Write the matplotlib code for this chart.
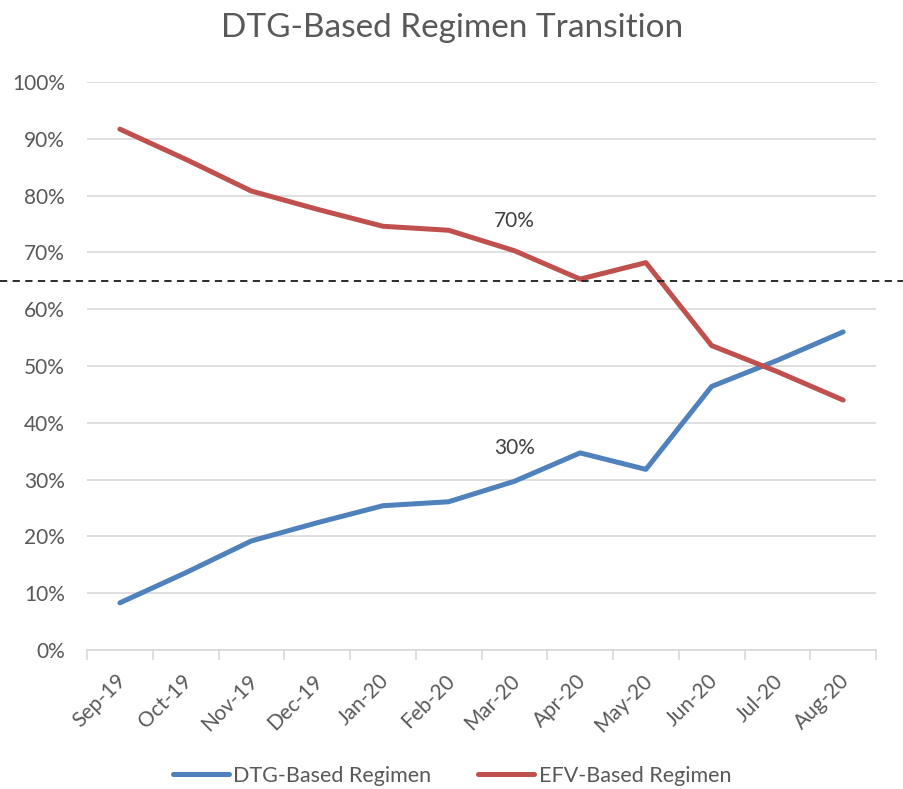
import matplotlib
matplotlib.use("Agg")
import matplotlib.pyplot as plt
from matplotlib.ticker import PercentFormatter, FixedLocator

months = ["Sep-19", "Oct-19", "Nov-19", "Dec-19", "Jan-20", "Feb-20",
          "Mar-20", "Apr-20", "May-20", "Jun-20", "Jul-20", "Aug-20"]
dtg = [8.3, 13.6, 19.2, 22.4, 25.4, 26.1, 29.7, 34.7, 31.8, 46.4, 51.0, 56.0]
efv = [91.7, 86.4, 80.8, 77.6, 74.6, 73.9, 70.3, 65.3, 68.2, 53.6, 49.0, 44.0]
threshold = 65
annotations = [("70%", 6, 70), ("30%", 6, 30)]

plt.rcParams['font.family'] = ['Lato', 'DejaVu Sans']
gray = "#595959"

fig = plt.figure(figsize=(9.04, 7.89), dpi=100)
ax = fig.add_axes([87/904, 1-650/789, (876-87)/904, (650-82)/789])

x = list(range(len(months)))
l1, = ax.plot(x, dtg, color="#4F81BD", lw=3.6, solid_capstyle="round", solid_joinstyle="round", label="DTG-Based Regimen")
l2, = ax.plot(x, efv, color="#C0504D", lw=3.6, solid_capstyle="round", solid_joinstyle="round", label="EFV-Based Regimen")

ax.set_xlim(-0.5, len(months) - 0.5)
ax.set_ylim(0, 100)
ax.yaxis.set_major_locator(FixedLocator(range(0, 101, 10)))
ax.yaxis.set_major_formatter(PercentFormatter(decimals=0))
ax.grid(axis="y", color="#D9D9D9", lw=1.2)
ax.set_axisbelow(True)
for s in ["top", "right", "left"]:
    ax.spines[s].set_visible(False)
ax.spines["bottom"].set_color("#D9D9D9")
ax.spines["bottom"].set_linewidth(1.2)

# category boundary ticks
ax.set_xticks([i - 0.5 for i in range(len(months) + 1)])
ax.set_xticklabels([])
ax.tick_params(axis="x", length=7, color="#D9D9D9", width=1.2)
ax.tick_params(axis="y", length=0, labelsize=15, labelcolor=gray, pad=16)
for i, m in enumerate(months):
    ax.annotate(m, xy=(i, 0), xycoords="data", xytext=(2, -20), textcoords="offset points",
                rotation=45, rotation_mode="anchor", ha="right", va="center",
                fontsize=15, color=gray)

# threshold dashed line across full figure width
fig.canvas.draw()
yfig = ax.transData.transform((0, threshold))[1] / fig.bbox.height
fig.add_artist(plt.Line2D([0, 1], [yfig, yfig], transform=fig.transFigure,
                          color="#1a1a1a", lw=1.3, ls=(0, (4, 3))))

for txt, xi, yv in annotations:
    ax.text(xi, yv + 5.5, txt, ha="center", va="center", fontsize=15, color="#404040")

fig.text(0.5, 1 - 28/789, "DTG-Based Regimen Transition", ha="center", va="center",
         fontsize=24, color=gray)

fig.legend(handles=[l1, l2], loc="center", bbox_to_anchor=(0.5, 1 - 776/789), ncol=2,
           frameon=False, fontsize=15.5, labelcolor=gray, handlelength=2.6,
           handletextpad=0.2, columnspacing=2.2)

fig.savefig("out.png", dpi=100)
